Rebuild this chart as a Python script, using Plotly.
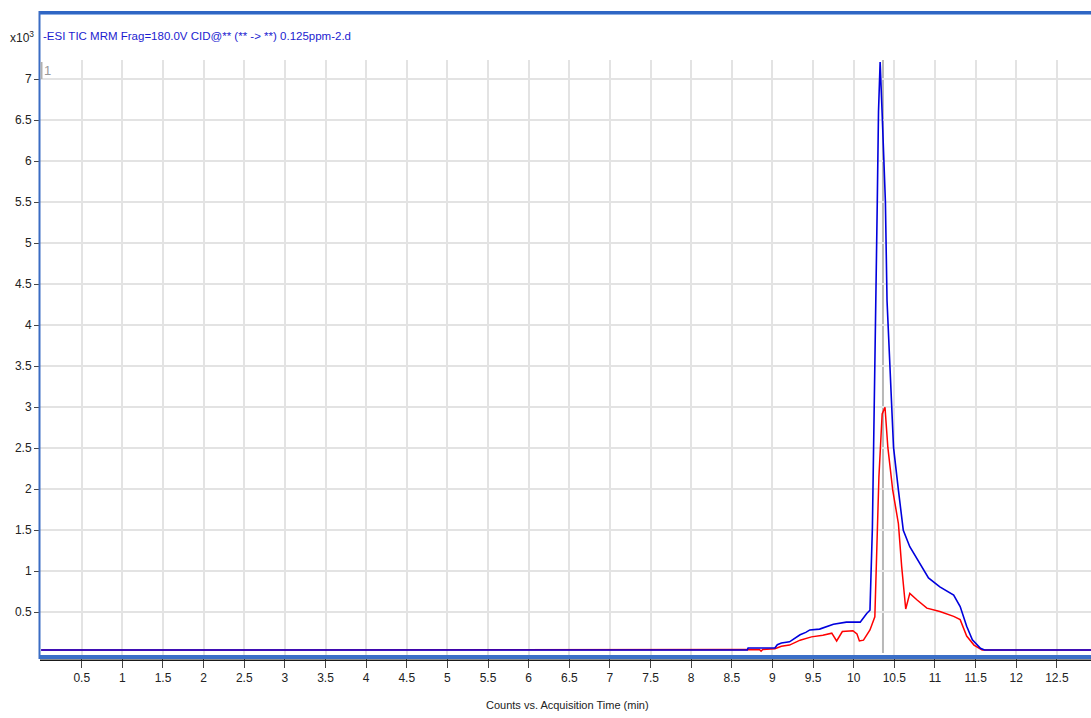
import plotly.graph_objects as go

# ---- data ----
tic_x = [0.0, 8.69, 8.70, 9.03, 9.06, 9.11, 9.21, 9.26, 9.34, 9.41, 9.46, 9.58, 9.66, 9.75,
         9.91, 10.08, 10.16, 10.20, 10.23, 10.26, 10.29, 10.305, 10.325, 10.35, 10.39, 10.41,
         10.45, 10.49, 10.55, 10.61, 10.69, 10.80, 10.92, 11.06, 11.23, 11.31, 11.39, 11.46,
         11.56, 11.61, 13.0]
tic_y = [0.04, 0.04, 0.065, 0.065, 0.105, 0.125, 0.14, 0.175, 0.225, 0.255, 0.285, 0.295, 0.325, 0.355,
         0.38, 0.38, 0.485, 0.525, 1.54, 3.3, 5.5, 6.6, 7.21, 6.58, 5.5, 4.3,
         3.33, 2.51, 1.99, 1.5, 1.3, 1.12, 0.92, 0.81, 0.71, 0.57, 0.33, 0.165,
         0.06, 0.04, 0.04]

mrm_x = [0.0, 8.70, 8.84, 8.86, 8.88, 9.03, 9.11, 9.21, 9.30, 9.34, 9.48, 9.62, 9.73, 9.76,
         9.79, 9.86, 9.99, 10.04, 10.07, 10.12, 10.20, 10.26, 10.29, 10.31, 10.35, 10.385,
         10.42, 10.48, 10.55, 10.59, 10.64, 10.69, 10.78, 10.90, 11.06, 11.23, 11.31, 11.39,
         11.48, 11.58, 13.0]
mrm_y = [0.04, 0.04, 0.045, 0.025, 0.045, 0.055, 0.085, 0.10, 0.14, 0.16, 0.20, 0.22, 0.245, 0.205,
         0.15, 0.265, 0.275, 0.235, 0.15, 0.16, 0.285, 0.445, 1.42, 2.15, 2.92, 3.0,
         2.51, 1.99, 1.58, 1.06, 0.54, 0.73, 0.65, 0.55, 0.51, 0.45, 0.41, 0.21,
         0.10, 0.04, 0.04]

x_ticks = [0.5, 1, 1.5, 2, 2.5, 3, 3.5, 4, 4.5, 5, 5.5, 6, 6.5, 7, 7.5, 8, 8.5, 9, 9.5,
           10, 10.5, 11, 11.5, 12, 12.5]
x_tick_labels = ["0.5", "1", "1.5", "2", "2.5", "3", "3.5", "4", "4.5", "5", "5.5", "6", "6.5",
                 "7", "7.5", "8", "8.5", "9", "9.5", "10", "10.5", "11", "11.5", "12", "12.5"]
y_ticks = [0.5, 1, 1.5, 2, 2.5, 3, 3.5, 4, 4.5, 5, 5.5, 6, 6.5, 7]
y_tick_labels = ["0.5", "1", "1.5", "2", "2.5", "3", "3.5", "4", "4.5", "5", "5.5", "6", "6.5", "7"]
marker_time = 10.36

title_text = "-ESI TIC MRM Frag=180.0V CID@** (** -> **) 0.125ppm-2.d"
x_title = "Counts vs. Acquisition Time (min)"

FONT = "Liberation Sans, Arial, sans-serif"

W, H = 1091, 718
ML, MR, MT, MB = 40, 0, 60, 63
PH = H - MT - MB


def py(p):
    return (H - MB - p) / PH


def px(p):
    return (p - ML) / (W - ML - MR)


fig = go.Figure()
fig.add_trace(go.Scatter(x=mrm_x, y=mrm_y, mode="lines",
                         line=dict(color="#ff0000", width=1.5), hoverinfo="skip"))
fig.add_trace(go.Scatter(x=tic_x, y=tic_y, mode="lines",
                         line=dict(color="#0000dd", width=1.6), hoverinfo="skip"))

shapes = [
    # vertical marker line
    dict(type="line", xref="x", yref="paper", x0=marker_time, x1=marker_time,
         y0=py(653), y1=1, line=dict(color="#b8b8b8", width=2), layer="below"),
    # top border
    dict(type="line", xref="paper", yref="paper", x0=px(39), x1=px(1091),
         y0=py(12.5), y1=py(12.5), line=dict(color="#2f66c4", width=3)),
    dict(type="line", xref="paper", yref="paper", x0=px(39), x1=px(1091),
         y0=py(14.5), y1=py(14.5), line=dict(color="#8eaee2", width=1)),
    # left border
    dict(type="line", xref="paper", yref="paper", x0=px(39.5), x1=px(39.5),
         y0=py(659), y1=py(11), line=dict(color="#3a6cc4", width=2)),
    # bottom axis band
    dict(type="rect", xref="paper", yref="paper", x0=px(39), x1=px(1091),
         y0=py(659), y1=py(655), line=dict(width=0), fillcolor="#3b6fc8"),
    dict(type="line", xref="paper", yref="paper", x0=px(40), x1=px(1091),
         y0=py(660.3), y1=py(660.3), line=dict(color="#1a1a1a", width=1.5)),
    # small gray mark at top-left
    dict(type="line", xref="paper", yref="paper", x0=px(41.5), x1=px(41.5),
         y0=py(79), y1=py(62), line=dict(color="#b0b0b0", width=2)),
]

annotations = [
    dict(text=title_text, xref="paper", yref="paper", x=px(41), y=py(36),
         xanchor="left", yanchor="middle", showarrow=False,
         font=dict(family=FONT, size=11.5, color="#1c1cd0")),
    dict(text="x10<sup>3</sup>", xref="paper", yref="paper", x=px(36), y=py(37),
         xanchor="right", yanchor="middle", showarrow=False,
         font=dict(family=FONT, size=12, color="#222222")),
    dict(text="1", xref="paper", yref="paper", x=px(42), y=py(70),
         xanchor="left", yanchor="middle", showarrow=False,
         font=dict(family=FONT, size=13, color="#9a9a9a")),
    dict(text=x_title, xref="paper", yref="paper", x=px(567), y=py(705),
         xanchor="center", yanchor="middle", showarrow=False,
         font=dict(family=FONT, size=11, color="#222222")),
]

fig.update_layout(
    width=W, height=H,
    margin=dict(l=ML, r=MR, t=MT, b=MB, pad=0),
    paper_bgcolor="white", plot_bgcolor="white",
    showlegend=False,
    shapes=shapes, annotations=annotations,
    font=dict(family=FONT, size=12, color="#222222"),
)
fig.update_xaxes(range=[-0.0135, 12.92], tickvals=x_ticks, ticktext=x_tick_labels,
                 showgrid=True, gridcolor="#e3e3e3", gridwidth=2, zeroline=False,
                 showline=False, ticks="outside", ticklen=12, tickwidth=1, tickcolor="#444444",
                 ticklabelstandoff=0,
                 tickfont=dict(family=FONT, size=12, color="#222222"))
fig.update_yaxes(range=[-0.021, 7.235], tickvals=y_ticks, ticktext=y_tick_labels,
                 showgrid=True, gridcolor="#e3e3e3", gridwidth=2, zeroline=False,
                 showline=False, ticks="outside", ticklen=5, tickwidth=1, tickcolor="#444444",
                 tickfont=dict(family=FONT, size=12, color="#222222"))

fig.write_html("out.html")
